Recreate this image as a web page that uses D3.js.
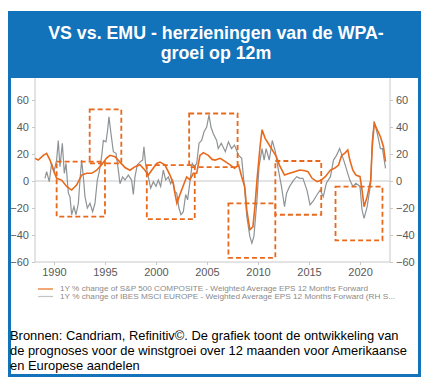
<!DOCTYPE html>
<html>
<head>
<meta charset="utf-8">
<script src="https://cdn.jsdelivr.net/npm/d3@7"></script>
<style>
  body { margin: 0; background: #fff; }
  svg { display: block; font-family: "Liberation Sans", Arial, sans-serif; }
</style>
</head>
<body>
<script>
// gegevens
const usDates = [1988.15, 1988.46, 1988.95, 1989.28, 1989.61, 1990.0, 1990.26, 1990.75, 1991.24, 1991.73,
  1992.22, 1992.71, 1993.2, 1993.69, 1994.18, 1994.67, 1995.16, 1995.49, 1995.98, 1996.47,
  1996.96, 1997.45, 1997.94, 1998.43, 1998.92, 1999.25, 1999.58, 2000.07, 2000.39, 2000.88,
  2001.37, 2001.7, 2001.85, 2002.05, 2002.35, 2002.7, 2003.0, 2003.33, 2003.66, 2003.99,
  2004.31, 2004.64, 2005.13, 2005.5, 2005.8, 2006.3, 2006.8, 2007.3, 2007.7, 2008.1,
  2008.4, 2008.7, 2008.9, 2009.2, 2009.5, 2009.7, 2009.9, 2010.2, 2010.4, 2010.7,
  2011.0, 2011.5, 2011.8, 2012.1, 2012.6, 2013.1, 2013.6, 2014.1, 2014.6, 2014.9,
  2015.3, 2015.8, 2016.2, 2016.6, 2017.1, 2017.5, 2017.9, 2018.2, 2018.5, 2018.8,
  2019.0, 2019.3, 2019.6, 2020.0, 2020.2, 2020.4, 2020.7, 2021.05, 2021.2, 2021.4,
  2021.7, 2022.0, 2022.3, 2022.5];
const usValues = [16.8, 15.5, 19, 20.5, 15.5, 7, 2, 0.7, -4, -6.7,
  -3, 4.4, 5.7, 5.7, 8, 12, 17, 19, 18, 14,
  10, 8, 10.6, 12, 8, 4.4, 8, 13, 14, 12,
  4.4, -2, -9, -16.5, -10, -3, 3, 1, 5.7, 5.7,
  19, 21, 19, 16, 15.5, 16.8, 14.3, 11.8, 9.4, 11.8,
  3.2, -4.2, -21.5, -36, -34, -19, 0.7, 25.4, 38, 31.6,
  28, 21.7, 18, 11.8, 4.4, 5.7, 6.9, 8.1, 7.6, 6.9,
  2, -0.5, 0.7, 3.2, 8.1, 9.4, 11.8, 19, 20.5, 23,
  15.5, 8, 4.4, 3.2, -6.7, -19, -11.6, 0.7, 25.4, 42.7,
  37.8, 32.8, 25.4, 14.3];

const euDates = [1989.12, 1989.28, 1989.54, 1989.77, 1990.0, 1990.26, 1990.42, 1990.59, 1990.82, 1991.01,
  1991.18, 1991.41, 1991.57, 1991.73, 1991.96, 1992.16, 1992.39, 1992.55, 1992.71, 1992.88,
  1993.04, 1993.27, 1993.53, 1993.79, 1994.02, 1994.25, 1994.44, 1994.67, 1994.84, 1995.1,
  1995.26, 1995.39, 1995.59, 1995.82, 1996.08, 1996.31, 1996.47, 1996.73, 1996.96, 1997.29,
  1997.61, 1997.78, 1997.94, 1998.17, 1998.43, 1998.69, 1998.82, 1998.99, 1999.25, 1999.48,
  1999.74, 2000.0, 2000.23, 2000.46, 2000.72, 2000.95, 2001.21, 2001.44, 2001.63, 2001.86,
  2002.03, 2002.25, 2002.45, 2002.68, 2002.91, 2003.1, 2003.33, 2003.56, 2003.76, 2003.99,
  2004.22, 2004.48, 2004.71, 2004.97, 2005.2, 2005.39, 2005.62, 2005.95, 2006.1, 2006.4,
  2006.8, 2007.1, 2007.4, 2007.7, 2008.1, 2008.4, 2008.7, 2008.9, 2009.2, 2009.4,
  2009.6, 2009.9, 2010.1, 2010.4, 2010.6, 2010.8, 2011.1, 2011.4, 2011.7, 2012.0,
  2012.3, 2012.6, 2012.8, 2013.1, 2013.5, 2013.8, 2014.1, 2014.4, 2014.8, 2015.1,
  2015.4, 2015.8, 2016.1, 2016.4, 2016.7, 2017.1, 2017.4, 2017.7, 2018.0, 2018.4,
  2018.7, 2019.0, 2019.3, 2019.6, 2020.0, 2020.2, 2020.4, 2020.7, 2021.05, 2021.2,
  2021.4, 2021.7, 2022.0, 2022.2, 2022.5];
const euValues = [2, 7, -0.5, 13, 7, 15.5, 30, 10.6, 28, 5.7,
  13, -9, -11.6, -25, -19, -25, -16.5, 0.7, 15.5, 3,
  -11.6, -20, -16.5, -22.7, -16.5, 0.7, 7, 18, 30, 29,
  37.8, 47.6, 35, 21.7, 20.5, 8, -2, 3, 0.7, 4.4,
  0.7, -10, 3, 12, 14, 15.5, 25.4, 12, 3, -5.4,
  -0.5, -4, 0.7, -4, 8, 0.7, 3, -2, 0.7, -8,
  -9, -20, -25, -22.7, -10, -14, -0.5, 13, 10.6, 13,
  28, 30, 36.5, 40, 49, 40, 35, 30, 24, 28,
  21.7, 29, 24, 26.6, 19, 16.8, -6.7, -26, -41, -46,
  -41, -14, 10.6, 24, 15.5, 24, 15.5, 30, 21.7, 8,
  -4, -19, -9, -4, 0.7, 3.2, 2, 2, -6.7, -17.7,
  -15, -10, -6.7, -11.6, -1.7, 3.2, 15.5, 19, 24, 15.5,
  8, 0.7, -4, -1.7, -4, -21.5, -27.7, -19, -1.7, 30,
  44, 35, 24, 24, 9.4];

// gestippelde kaders: [van jaar, tot jaar, boven, onder]
const boxes = [
  [1990.26, 1995.0, 14.3, -26.4],
  [1993.5, 1996.6, 53, 13],
  [1999.1, 2003.8, 11.8, -28.3],
  [2003.25, 2008.0, 50, 10.3],
  [2007.1, 2011.7, -16.5, -57],
  [2011.7, 2016.2, 14.8, -25],
  [2017.6, 2022.2, -4.2, -44]
];

const yearTicks = [1990, 1995, 2000, 2005, 2010, 2015, 2020];
const valueTicks = [-60, -40, -20, 0, 20, 40, 60];
const legendLabels = [
  "1Y % change of S&P 500 COMPOSITE - Weighted Average EPS 12 Months Forward",
  "1Y % change of IBES MSCI EUROPE - Weighted Average EPS 12 Months Forward (RH S..."
];
const titleLines = ["VS vs. EMU - herzieningen van de WPA-", "groei op 12m"];
const captionLines = [
  "Bronnen: Candriam, Refinitiv©. De grafiek toont de ontwikkeling van",
  "de prognoses voor de winstgroei over 12 maanden voor Amerikaanse",
  "en Europese aandelen"
];

const width = 430;
const height = 388;
const blauw = "#1272ba";
const oranje = "#e8691c";
const grijs = "#8e9396";

const svg = d3.select("body").append("svg")
    .attr("width", width)
    .attr("height", height);

// kader en titelbalk
svg.append("rect")
    .attr("x", 8).attr("y", 11)
    .attr("width", 413).attr("height", 67)
    .attr("fill", blauw);

svg.append("rect")
    .attr("x", 9.5).attr("y", 12.5)
    .attr("width", 410).attr("height", 363)
    .attr("fill", "none")
    .attr("stroke", blauw)
    .attr("stroke-width", 3);

svg.selectAll(".titel")
    .data(titleLines)
    .enter().append("text")
    .attr("class", "titel")
    .attr("x", 216)
    .attr("y", (d, i) => 39 + i * 20)
    .attr("text-anchor", "middle")
    .attr("fill", "#fff")
    .attr("font-weight", "bold")
    .attr("font-size", 17.8)
    .text(d => d);

// schalen
const x = d3.scaleLinear().domain([1988.14, 2022.94]).range([35, 390]);
const y = d3.scaleLinear().domain([-60, 60]).range([262, 100]);

// assen
const asKleur = "#c8c8c8";
const tekstKleur = "#595959";

const leftAxis = svg.append("g")
    .attr("transform", "translate(35,0)")
    .call(d3.axisLeft(y).tickValues(valueTicks).tickSize(3).tickPadding(3));
const rightAxis = svg.append("g")
    .attr("transform", "translate(390,0)")
    .call(d3.axisRight(y).tickValues(valueTicks).tickSize(3).tickPadding(3));
const bottomAxis = svg.append("g")
    .attr("transform", "translate(0,262)")
    .call(d3.axisBottom(x).tickValues(yearTicks).tickFormat(d3.format("d")).tickSize(3).tickPadding(3));

[leftAxis, rightAxis, bottomAxis].forEach(g => {
    g.select(".domain").remove();
    g.selectAll("line").attr("stroke", asKleur);
    g.selectAll("text")
        .attr("fill", tekstKleur)
        .attr("font-size", 11)
        .attr("font-family", "Liberation Sans, Arial, sans-serif");
});

// aslijnen tot aan de titelbalk
svg.append("line").attr("x1", 35).attr("x2", 35).attr("y1", 78).attr("y2", 262).attr("stroke", asKleur);
svg.append("line").attr("x1", 390).attr("x2", 390).attr("y1", 78).attr("y2", 262).attr("stroke", asKleur);
svg.append("line").attr("x1", 35).attr("x2", 390).attr("y1", 262).attr("y2", 262).attr("stroke", asKleur);
svg.append("line").attr("x1", 35).attr("x2", 390).attr("y1", y(0)).attr("y2", y(0)).attr("stroke", asKleur);

// lijnen
const line = d3.line()
    .x(d => x(d[0]))
    .y(d => y(d[1]));

const euData = euDates.map((d, i) => [d, euValues[i]]);
const usData = usDates.map((d, i) => [d, usValues[i]]);

svg.append("path")
    .datum(euData)
    .attr("d", line)
    .attr("fill", "none")
    .attr("stroke", grijs)
    .attr("stroke-width", 1.2);

svg.append("path")
    .datum(usData)
    .attr("d", line)
    .attr("fill", "none")
    .attr("stroke", oranje)
    .attr("stroke-width", 1.6);

// gestippelde kaders
svg.selectAll(".kader")
    .data(boxes)
    .enter().append("rect")
    .attr("class", "kader")
    .attr("x", d => x(d[0]))
    .attr("y", d => y(d[2]))
    .attr("width", d => x(d[1]) - x(d[0]))
    .attr("height", d => y(d[3]) - y(d[2]))
    .attr("fill", "none")
    .attr("stroke", oranje)
    .attr("stroke-width", 1.8)
    .attr("stroke-dasharray", "5,3");

// legenda
const legendKleuren = ["#f0a878", "#c4c4c4"];
const legendBreedte = [308, 335];
const legend = svg.selectAll(".legenda")
    .data(legendLabels)
    .enter().append("g")
    .attr("class", "legenda")
    .attr("transform", (d, i) => `translate(38,${289 + i * 7.5})`);

legend.append("line")
    .attr("x1", 0).attr("x2", 15)
    .attr("stroke", (d, i) => legendKleuren[i])
    .attr("stroke-width", (d, i) => i === 0 ? 2 : 1.2);

legend.append("text")
    .attr("x", 22)
    .attr("y", 2.4)
    .attr("fill", "#8a8a8a")
    .attr("font-size", 7.4)
    .attr("textLength", (d, i) => legendBreedte[i])
    .attr("lengthAdjust", "spacingAndGlyphs")
    .text(d => d);

// bijschrift
svg.selectAll(".bron")
    .data(captionLines)
    .enter().append("text")
    .attr("class", "bron")
    .attr("x", 10)
    .attr("y", (d, i) => 340 + i * 15)
    .attr("fill", "#000")
    .attr("font-size", 12.9)
    .text(d => d);
</script>
</body>
</html>
